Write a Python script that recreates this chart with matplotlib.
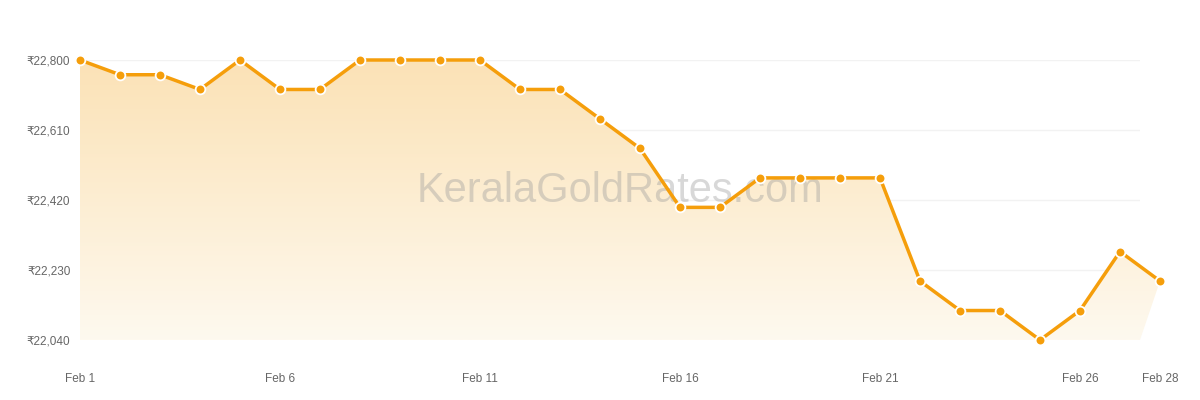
import matplotlib
matplotlib.use("Agg")
import matplotlib.pyplot as plt
import numpy as np
from matplotlib.patches import Polygon
from matplotlib.colors import LinearSegmentedColormap

days = list(range(1, 29))
rates = [22800, 22760, 22760, 22720, 22800, 22720, 22720, 22800, 22800, 22800,
         22800, 22720, 22720, 22640, 22560, 22400, 22400, 22480, 22480, 22480,
         22480, 22200, 22120, 22120, 22040, 22120, 22280, 22200]
y_ticks = [22040, 22230, 22420, 22610, 22800]
x_tick_days = [1, 6, 11, 16, 21, 26, 28]
x_tick_labels = ["Feb 1", "Feb 6", "Feb 11", "Feb 16", "Feb 21", "Feb 26", "Feb 28"]

FONT = ["Liberation Sans", "DejaVu Sans"]
plt.rcParams["font.family"] = FONT

fig = plt.figure(figsize=(12, 4), dpi=100)
ax = fig.add_axes([80/1200, 60/400, 1060/1200, 280/400])
ymin, ymax = 22040, 22800
xend = 27.5

for s in ax.spines.values():
    s.set_visible(False)
ax.set_yticks(y_ticks)
ax.set_yticklabels([f"₹{v:,}" for v in y_ticks])
ax.set_xticks([])
ax.tick_params(axis="both", length=0, labelsize=8.5, colors="#666666")
ax.tick_params(axis="y", pad=7)

# x labels (last one lies beyond the plot area)
for d, lab in zip(x_tick_days, x_tick_labels):
    ax.annotate(lab, xy=(d, 0), xycoords=("data", "axes fraction"),
                xytext=(0, -24), textcoords="offset points",
                ha="center", va="top", fontsize=8.5, color="#666666",
                annotation_clip=False)

# gradient fill
poly_pts = list(zip(days, rates)) + [(xend, ymin), (1, ymin)]
poly = Polygon(poly_pts, closed=True, facecolor="none", edgecolor="none")
ax.add_patch(poly)
poly.set_clip_on(False)
cmap = LinearSegmentedColormap.from_list("g", ["#fef9ef", "#fbe2b6"])
grad = np.linspace(0, 1, 256).reshape(-1, 1)
im = ax.imshow(grad, cmap=cmap, aspect="auto", origin="lower",
               extent=[1, 28, ymin, ymax], zorder=1)
im.set_clip_box(fig.bbox)
im.set_clip_path(poly)

for t in y_ticks:
    ax.axhline(t, color="#f2f2f2", lw=1, zorder=0.5)

ax.plot(days, rates, color="#f59e0b", lw=2.5, zorder=3, clip_on=False,
        marker="o", markersize=7, markerfacecolor="#f59e0b",
        markeredgecolor="white", markeredgewidth=1.3)

ax.text(14.5, 22444, "KeralaGoldRates.com", fontsize=30,
        color="#9a9a9a", alpha=0.38, ha="center", va="center", zorder=2,
        family=FONT)

ax.set_xlim(1, xend)
ax.set_ylim(ymin, ymax)

fig.savefig("out.png", dpi=100)
